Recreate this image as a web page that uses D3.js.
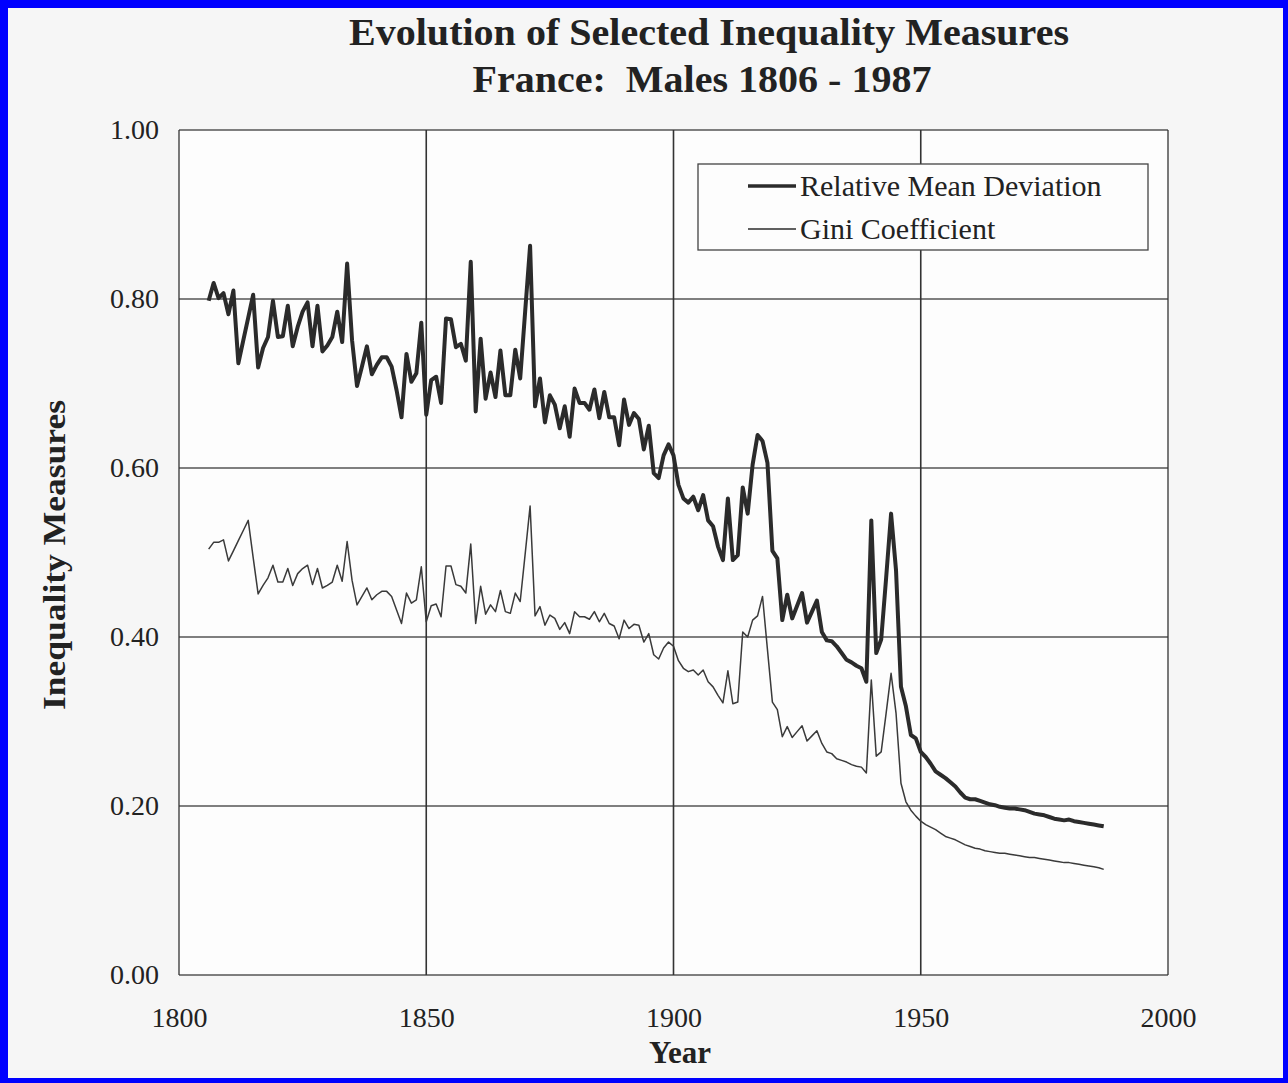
<!DOCTYPE html>
<html>
<head>
<meta charset="utf-8">
<script src="https://cdn.jsdelivr.net/npm/d3@7"></script>
<style>
  html, body { margin: 0; padding: 0; background: #0000ff; }
  svg { display: block; }
</style>
</head>
<body>
<svg id="chart" width="1288" height="1083"></svg>
<script>
// ---- data ----
const titleLines = ["Evolution of Selected Inequality Measures", "France:  Males 1806 - 1987"];
const seriesNames = ["Relative Mean Deviation", "Gini Coefficient"];
const firstYear = 1806;
const lastYear = 1987;
const xTicks = [1800, 1850, 1900, 1950, 2000];
const yTicks = [0, 0.2, 0.4, 0.6, 0.8, 1.0];

const rmd = [
  0.798, 0.819, 0.801, 0.807, 0.782, 0.810, 0.724, 0.751, 0.778, 0.805, // 1806-1815
  0.719, 0.742, 0.755, 0.798, 0.755, 0.756, 0.792, 0.744, 0.767, 0.785, // 1816-1825
  0.796, 0.744, 0.792, 0.738, 0.745, 0.755, 0.785, 0.749, 0.842, 0.751, // 1826-1835
  0.697, 0.720, 0.744, 0.711, 0.722, 0.731, 0.731, 0.720, 0.692, 0.660, // 1836-1845
  0.735, 0.702, 0.712, 0.772, 0.663, 0.704, 0.708, 0.677, 0.777, 0.776, // 1846-1855
  0.743, 0.747, 0.727, 0.844, 0.667, 0.753, 0.682, 0.713, 0.684, 0.739, // 1856-1865
  0.686, 0.686, 0.740, 0.706, 0.785, 0.863, 0.673, 0.706, 0.654, 0.686, // 1866-1875
  0.675, 0.647, 0.673, 0.637, 0.694, 0.677, 0.677, 0.669, 0.693, 0.659, // 1876-1885
  0.690, 0.660, 0.660, 0.627, 0.681, 0.651, 0.665, 0.658, 0.622, 0.650, // 1886-1895
  0.594, 0.588, 0.615, 0.628, 0.615, 0.580, 0.564, 0.559, 0.566, 0.550, // 1896-1905
  0.568, 0.538, 0.531, 0.507, 0.491, 0.564, 0.491, 0.497, 0.577, 0.546, // 1906-1915
  0.604, 0.639, 0.632, 0.606, 0.502, 0.493, 0.420, 0.450, 0.422, 0.437, // 1916-1925
  0.452, 0.417, 0.430, 0.443, 0.406, 0.396, 0.395, 0.389, 0.381, 0.373, // 1926-1935
  0.370, 0.366, 0.363, 0.347, 0.538, 0.381, 0.397, 0.470, 0.546, 0.479, // 1936-1945
  0.341, 0.318, 0.284, 0.280, 0.264, 0.258, 0.250, 0.241, 0.237, 0.233, // 1946-1955
  0.228, 0.223, 0.216, 0.210, 0.208, 0.208, 0.206, 0.204, 0.202, 0.201, // 1956-1965
  0.199, 0.198, 0.197, 0.197, 0.196, 0.195, 0.193, 0.191, 0.190, 0.189, // 1966-1975
  0.187, 0.185, 0.184, 0.183, 0.184, 0.182, 0.181, 0.180, 0.179, 0.178, // 1976-1985
  0.177, 0.176                                                         // 1986-1987
];

const gini = [
  0.504, 0.512, 0.512, 0.515, 0.490, 0.502, 0.514, 0.526, 0.538, 0.494, // 1806-1815
  0.451, 0.461, 0.470, 0.485, 0.465, 0.465, 0.481, 0.461, 0.475, 0.481, // 1816-1825
  0.485, 0.462, 0.481, 0.458, 0.461, 0.465, 0.485, 0.466, 0.513, 0.467, // 1826-1835
  0.438, 0.448, 0.458, 0.444, 0.450, 0.454, 0.454, 0.448, 0.432, 0.416, // 1836-1845
  0.452, 0.440, 0.444, 0.483, 0.418, 0.437, 0.439, 0.424, 0.484, 0.484, // 1846-1855
  0.462, 0.460, 0.452, 0.510, 0.416, 0.460, 0.427, 0.438, 0.430, 0.455, // 1856-1865
  0.430, 0.428, 0.452, 0.442, 0.498, 0.555, 0.425, 0.436, 0.414, 0.426, // 1866-1875
  0.422, 0.409, 0.417, 0.404, 0.430, 0.424, 0.424, 0.421, 0.430, 0.418, // 1876-1885
  0.428, 0.416, 0.413, 0.398, 0.420, 0.410, 0.415, 0.414, 0.394, 0.404, // 1886-1895
  0.379, 0.374, 0.387, 0.394, 0.389, 0.372, 0.363, 0.359, 0.361, 0.355, // 1896-1905
  0.361, 0.347, 0.341, 0.331, 0.322, 0.360, 0.321, 0.323, 0.406, 0.400, // 1906-1915
  0.420, 0.425, 0.448, 0.385, 0.323, 0.314, 0.282, 0.294, 0.281, 0.288, // 1916-1925
  0.295, 0.277, 0.283, 0.289, 0.274, 0.264, 0.262, 0.256, 0.254, 0.252, // 1926-1935
  0.249, 0.247, 0.246, 0.239, 0.349, 0.259, 0.264, 0.310, 0.357, 0.310, // 1936-1945
  0.227, 0.205, 0.195, 0.188, 0.182, 0.178, 0.175, 0.172, 0.168, 0.164, // 1946-1955
  0.162, 0.160, 0.157, 0.154, 0.152, 0.150, 0.149, 0.147, 0.146, 0.145, // 1956-1965
  0.144, 0.144, 0.143, 0.142, 0.141, 0.140, 0.139, 0.139, 0.138, 0.137, // 1966-1975
  0.136, 0.135, 0.134, 0.133, 0.133, 0.132, 0.131, 0.130, 0.129, 0.128, // 1976-1985
  0.127, 0.125                                                         // 1986-1987
];

const years = d3.range(firstYear, lastYear + 1);

// ---- drawing ----
const svg = d3.select("#chart");
const W = 1288, H = 1083;

// paper
svg.append("rect").attr("x", 8).attr("y", 8).attr("width", W - 13).attr("height", H - 13)
  .attr("fill", "#f6f6f6");

const x = d3.scaleLinear().domain([1800, 2000]).range([179, 1168]);
const y = d3.scaleLinear().domain([0, 1]).range([975, 130]);

const serif = "'Liberation Serif', 'Times New Roman', serif";

// plot area
svg.append("rect").attr("x", x(1800)).attr("y", y(1)).attr("width", x(2000) - x(1800))
  .attr("height", y(0) - y(1)).attr("fill", "#fdfdfd");

// horizontal gridlines
svg.append("g").selectAll("line").data(yTicks).join("line")
  .attr("x1", x(1800)).attr("x2", x(2000))
  .attr("y1", d => y(d)).attr("y2", d => y(d))
  .attr("stroke", "#555").attr("stroke-width", 1.3);

// vertical gridlines
svg.append("g").selectAll("line").data(xTicks).join("line")
  .attr("x1", d => x(d)).attr("x2", d => x(d))
  .attr("y1", y(0)).attr("y2", y(1))
  .attr("stroke", "#333").attr("stroke-width", d => (d === 1800 || d === 2000) ? 1.3 : 1.6);

// axes (labels only)
const yAxis = d3.axisLeft(y).tickValues(yTicks).tickFormat(d3.format(".2f")).tickSize(0).tickPadding(20);
const gy = svg.append("g").attr("transform", `translate(${x(1800)},0)`).call(yAxis);
gy.select(".domain").remove();
gy.selectAll("text").attr("font-family", serif).attr("font-size", 28).attr("fill", "#222");

const xAxis = d3.axisBottom(x).tickValues(xTicks).tickFormat(d3.format("d")).tickSize(0).tickPadding(32);
const gx = svg.append("g").attr("transform", `translate(0,${y(0)})`).call(xAxis);
gx.select(".domain").remove();
gx.selectAll("text").attr("font-family", serif).attr("font-size", 28).attr("fill", "#222");

// lines
const line = d3.line().x((d, i) => x(years[i])).y(d => y(d));
svg.append("path").datum(gini).attr("d", line).attr("fill", "none")
  .attr("stroke", "#3a3a3a").attr("stroke-width", 1.5).attr("stroke-linejoin", "round");
svg.append("path").datum(rmd).attr("d", line).attr("fill", "none")
  .attr("stroke", "#2b2b2b").attr("stroke-width", 4).attr("stroke-linejoin", "round");

// legend
const lg = svg.append("g");
lg.append("rect").attr("x", 698).attr("y", 164).attr("width", 450).attr("height", 86)
  .attr("fill", "#fdfdfd").attr("stroke", "#444").attr("stroke-width", 1.3);
const legendItems = [{ name: seriesNames[0], w: 3.5, yy: 186, len: 303 }, { name: seriesNames[1], w: 1.3, yy: 229, len: 197 }];
legendItems.forEach(it => {
  lg.append("line").attr("x1", 748).attr("x2", 796).attr("y1", it.yy).attr("y2", it.yy)
    .attr("stroke", "#2b2b2b").attr("stroke-width", it.w);
  lg.append("text").attr("x", 800).attr("y", it.yy + 10).text(it.name)
    .attr("font-family", serif).attr("font-size", 30).attr("fill", "#222");
});

// titles
svg.append("text").attr("x", 709).attr("y", 45).attr("text-anchor", "middle")
  .attr("font-family", serif).attr("font-weight", "bold").attr("font-size", 38)
  .attr("fill", "#222").attr("textLength", 720).attr("lengthAdjust", "spacingAndGlyphs")
  .text(titleLines[0]);
svg.append("text").attr("x", 702).attr("y", 92).attr("text-anchor", "middle")
  .attr("font-family", serif).attr("font-weight", "bold").attr("font-size", 38)
  .attr("fill", "#222").attr("textLength", 459).attr("lengthAdjust", "spacingAndGlyphs")
  .style("white-space", "pre")
  .text(titleLines[1]);

// axis titles
svg.append("text").attr("x", 680).attr("y", 1063).attr("text-anchor", "middle")
  .attr("font-family", serif).attr("font-weight", "bold").attr("font-size", 31)
  .attr("fill", "#222").text("Year");
svg.append("text").attr("transform", "translate(65,555) rotate(-90)").attr("text-anchor", "middle")
  .attr("font-family", serif).attr("font-weight", "bold").attr("font-size", 32)
  .attr("fill", "#222").attr("textLength", 310).attr("lengthAdjust", "spacingAndGlyphs")
  .text("Inequality Measures");
</script>
</body>
</html>
